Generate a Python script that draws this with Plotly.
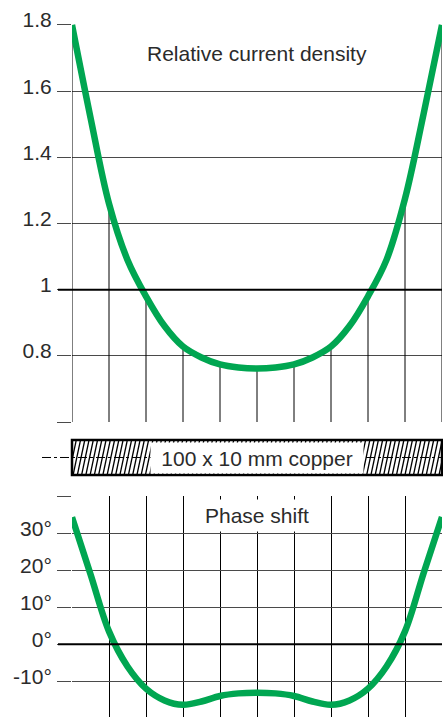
import numpy as np
import plotly.graph_objects as go

# ---------------- data ----------------
position_mm = [0, 5, 10, 15, 20, 25, 30, 35, 40, 45, 50,
               55, 60, 65, 70, 75, 80, 85, 90, 95, 100]
current_density = [1.80, 1.52, 1.26, 1.09, 0.98, 0.89, 0.828, 0.795, 0.774, 0.765, 0.762,
                   0.765, 0.774, 0.795, 0.828, 0.89, 0.98, 1.09, 1.275, 1.53, 1.80]
phase_shift = [34.4, 19.0, 3.5, -6.0, -12.0, -15.2, -16.4, -15.5, -14.0, -13.3, -13.1,
               -13.3, -14.0, -15.5, -16.4, -15.2, -12.0, -6.0, 3.5, 19.2, 34.5]

density_ticks = [0.6, 0.8, 1.0, 1.2, 1.4, 1.6, 1.8]
density_ticktext = ["", "0.8", "1", "1.2", "1.4", "1.6", "1.8"]
phase_ticks = [-10, 0, 10, 20, 30, 40]
phase_ticktext = ["-10°", "0°", "10°", "20°", "30°", ""]

title_top = "Relative current density"
title_bottom = "Phase shift"
bar_label = "100 x 10 mm copper"

# ---------------- styling ----------------
GREEN = "#00a651"
GRID = "#4a4a4a"
TEXT = "#2b2b2b"
FONT = "Liberation Sans, Arial, Helvetica, sans-serif"
W, H = 443, 717

top_dom = [0.41004, 0.96653]
bot_dom = [0.0, 0.30781]
mid_dom = [0.33752, 0.38633]

fig = go.Figure()

# vertical lines of the top chart, from the bottom up to the curve
vx, vy = [], []
for x, v in zip(position_mm[::2], current_density[::2]):
    vx += [x, x, None]
    vy += [density_ticks[0], v, None]
fig.add_trace(go.Scatter(x=vx, y=vy, mode="lines", line=dict(color="black", width=1),
                         hoverinfo="skip", xaxis="x", yaxis="y"))

fig.add_trace(go.Scatter(x=position_mm, y=current_density, mode="lines",
                         line=dict(color=GREEN, width=6.5, shape="spline", smoothing=1.0),
                         xaxis="x", yaxis="y"))

fig.add_trace(go.Scatter(x=position_mm, y=phase_shift, mode="lines",
                         line=dict(color=GREEN, width=6.5, shape="spline", smoothing=1.0),
                         xaxis="x2", yaxis="y2"))

# hatching of the copper bar cross-section
hx, hy = [], []
slant, step = 2.0, 1.15
for x0 in np.arange(-slant, 100 + step, step):
    hx += [x0, x0 + slant, None]
    hy += [0, 1, None]
fig.add_trace(go.Scatter(x=hx, y=hy, mode="lines", line=dict(color="black", width=1.3),
                         hoverinfo="skip", xaxis="x3", yaxis="y3"))

tick_px = 14
ext = -tick_px / (W - 72 - 1)

shapes = [
    dict(type="line", xref="paper", yref="y", x0=ext, x1=1, y0=1.0, y1=1.0,
         line=dict(color="black", width=2)),
    dict(type="line", xref="paper", yref="y2", x0=ext, x1=1, y0=0, y1=0,
         line=dict(color="black", width=2)),
    dict(type="line", xref="paper", yref="paper", x0=-30 / 370, x1=1,
         y0=sum(mid_dom) / 2, y1=sum(mid_dom) / 2,
         line=dict(color="black", width=1, dash="dashdot")),
    dict(type="rect", xref="paper", yref="paper", x0=0, x1=1, y0=mid_dom[0], y1=mid_dom[1],
         line=dict(color="black", width=2.5)),
]

annotations = [
    dict(text=title_top, x=50, y=1.715, xref="x", yref="y", showarrow=False,
         font=dict(family=FONT, size=21, color=TEXT)),
    dict(text=title_bottom, x=50, y=35, xref="x2", yref="y2", showarrow=False,
         font=dict(family=FONT, size=21, color=TEXT), bgcolor="white",
         width=140, height=31, borderpad=0),
    dict(text=bar_label, x=50, y=0.5, xref="x3", yref="y3", showarrow=False,
         font=dict(family=FONT, size=21, color=TEXT), bgcolor="white",
         width=210, height=28, borderpad=1),
]

yaxis_common = dict(showgrid=True, gridcolor=GRID, gridwidth=1, zeroline=False,
                    ticks="outside", ticklen=tick_px, tickcolor=GRID, tickwidth=1,
                    showline=False, tickfont=dict(family=FONT, size=21, color=TEXT),
                    ticklabelstandoff=1, ticklabelshift=-5, automargin=False)

fig.update_layout(
    width=W, height=H,
    margin=dict(l=72, r=1, t=0, b=0, pad=0, autoexpand=False),
    paper_bgcolor="white", plot_bgcolor="white",
    showlegend=False,
    font=dict(family=FONT, color=TEXT),
    xaxis=dict(domain=[0, 1], range=[0, 100], anchor="y", showgrid=False, zeroline=False,
               showticklabels=False, ticks="", showline=False, automargin=False),
    yaxis=dict(domain=top_dom, range=[0.597, 1.803], anchor="x",
               tickvals=density_ticks, ticktext=density_ticktext, **yaxis_common),
    xaxis2=dict(domain=[0, 1], range=[0, 100], anchor="y2", showgrid=True, gridcolor="black",
                gridwidth=1, tick0=0, dtick=10, zeroline=False, showticklabels=False,
                ticks="", showline=False, automargin=False),
    yaxis2=dict(domain=bot_dom, range=[-19.7, 40.1], anchor="x2",
                tickvals=phase_ticks, ticktext=phase_ticktext, **yaxis_common),
    xaxis3=dict(domain=[0, 1], range=[0, 100], anchor="y3", visible=False),
    yaxis3=dict(domain=mid_dom, range=[0, 1], anchor="x3", visible=False),
    shapes=shapes,
    annotations=annotations,
)

fig.write_html("out.html", config={"displayModeBar": False},
               post_script="document.body.style.margin='0';document.body.style.overflow='hidden';")
